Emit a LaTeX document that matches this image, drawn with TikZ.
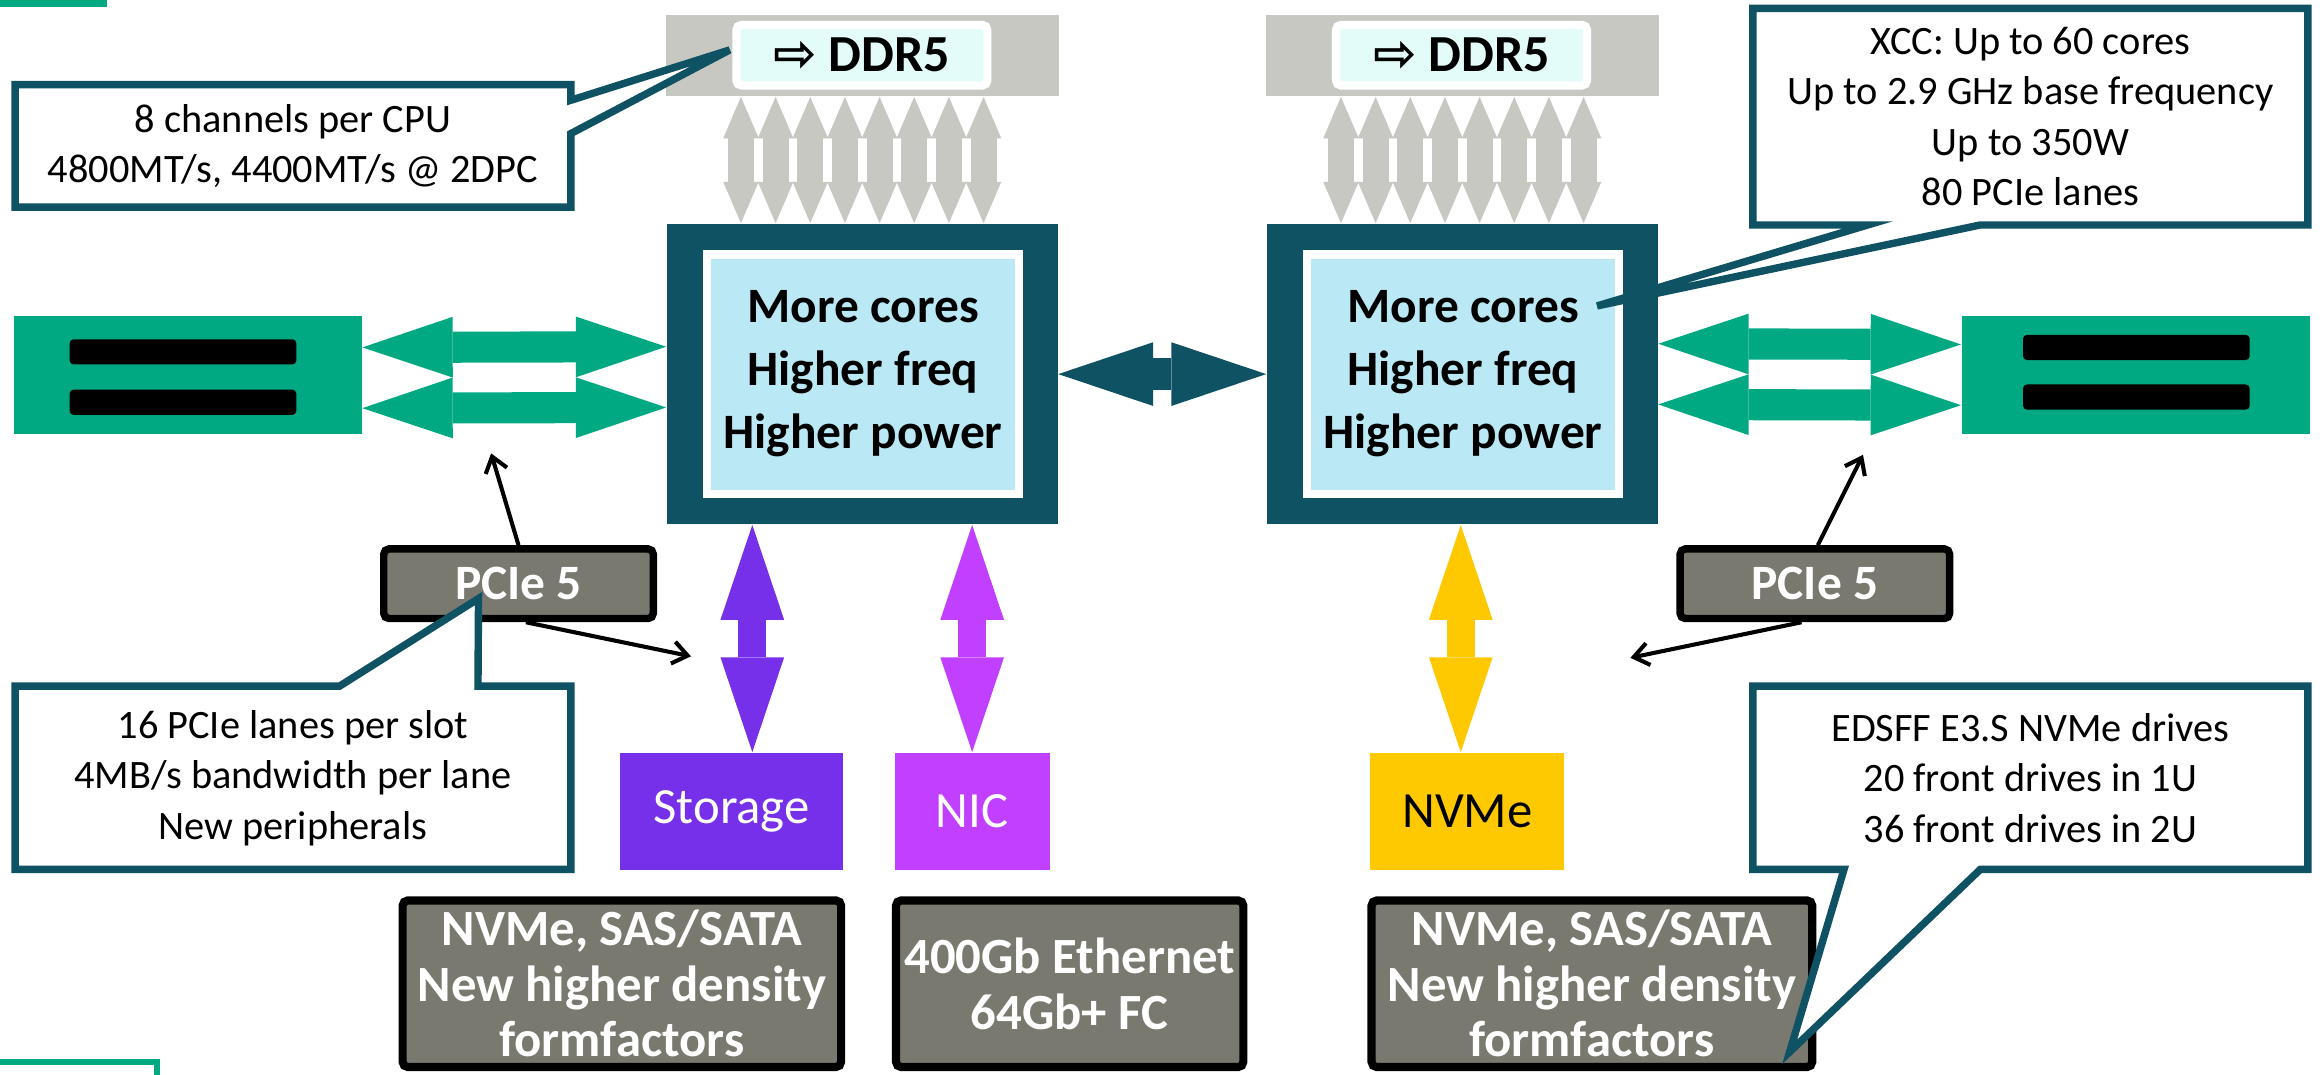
\documentclass[tikz,border=0pt]{standalone}
\usepackage{fontspec}
\setmainfont{Carlito}
\newfontfamily\arrowfont{DejaVu Sans}
\usetikzlibrary{arrows.meta}

\definecolor{hpeteal}{RGB}{14,82,99}
\definecolor{hpegreen}{RGB}{1,169,130}
\definecolor{corefill}{RGB}{186,232,245}
\definecolor{ddrgray}{RGB}{200,200,195}
\definecolor{ddrfill}{RGB}{228,252,249}
\definecolor{boxgray}{RGB}{122,121,112}
\definecolor{storpurple}{RGB}{118,48,234}
\definecolor{nicpurple}{RGB}{193,64,255}
\definecolor{nvmeyellow}{RGB}{254,201,1}

\begin{document}
\begin{tikzpicture}[x=0.02cm, y=-0.02cm,
  cpubox/.style={fill=hpeteal, inner sep=0, minimum width=5.28cm, minimum height=4.06cm},
  corebox/.style={fill=corefill, draw=white, line width=0.11cm, inner sep=0, minimum width=4.21cm, minimum height=3.23cm, align=center, font=\fontsize{19}{24.2}\selectfont\bfseries},
  ddrbox/.style={fill=ddrgray, inner sep=0, minimum width=5.3cm, minimum height=1.1cm},
  ddrlabel/.style={fill=ddrfill, draw=white, line width=0.11cm, rounded corners=2pt, inner sep=0, minimum width=3.39cm, minimum height=0.82cm, font=\fontsize{20}{22}\selectfont\bfseries},
  card/.style={fill=hpegreen, inner sep=0, minimum width=4.7cm, minimum height=1.6cm},
  slot/.style={fill=black, rounded corners=1.5pt, inner sep=0, minimum width=3.06cm, minimum height=0.34cm},
  pciebox/.style={fill=boxgray, draw=black, line width=0.1cm, rounded corners=2pt, inner sep=0, minimum width=3.64cm, minimum height=0.94cm, text=white, font=\fontsize{19}{21}\selectfont\bfseries},
  devbox/.style={inner sep=0, minimum height=1.58cm, font=\fontsize{19.5}{22}\selectfont},
  featbox/.style={fill=boxgray, draw=black, line width=0.11cm, rounded corners=2pt, inner sep=0, minimum height=2.25cm, text=white, align=center, font=\fontsize{19.5}{21.3}\selectfont\bfseries},
  notebox/.style={fill=white, inner sep=0, align=center, font=\fontsize{15.5}{19.4}\selectfont},
  noteline/.style={draw=hpeteal, line width=0.1cm},
  ddrarrow/.style={ddrgray, line width=0.35cm, >={Triangle[length=0.56cm, width=0.48cm, line width=0pt]}, <->},
  linkarrow/.style={hpegreen, line width=0.42cm, >={Triangle[length=1.22cm, width=0.82cm, line width=0pt]}, <->},
  cpulink/.style={hpeteal, line width=0.43cm, >={Triangle[length=1.28cm, width=0.86cm, line width=0pt]}, <->},
  devarrow/.style={#1, line width=0.38cm, >={Triangle[length=1.28cm, width=0.86cm, line width=0pt]}, <->},
  hintarrow/.style={black, line width=0.055cm, -{Straight Barb[length=0.2cm, width=0.3cm]}}
]
\useasboundingbox (0,0) rectangle (1568,725);
% Corner marks
\fill[hpegreen] (0,0) rectangle (72,5);
\draw[hpegreen, line width=0.08cm] (-10,717) rectangle (106,740);

% Define the nodes
\node[ddrbox] at (582,37.5) (ddrL) {};
\node[ddrlabel] at (581.75,37.25) (ddrLtxt) {{\arrowfont ⇨} DDR5};
\node[ddrbox] at (987,37.5) (ddrR) {};
\node[ddrlabel] at (986.5,37.25) (ddrRtxt) {{\arrowfont ⇨} DDR5};

\node[cpubox] at (582,252.5) (cpuL) {};
\node[corebox] at (582.5,252.5) (coresL) {More cores\\Higher freq\\Higher power};
\node[cpubox] at (987,252.5) (cpuR) {};
\node[corebox] at (987.5,252.5) (coresR) {More cores\\Higher freq\\Higher power};

\node[card] at (126.75,253) (cardL) {};
\node[slot] at (123.5,237.5) (slotL1) {};
\node[slot] at (123.5,271.5) (slotL2) {};
\node[card] at (1441.5,253) (cardR) {};
\node[slot] at (1442,234.5) (slotR1) {};
\node[slot] at (1442,268) (slotR2) {};

\node[pciebox] at (350,394) (pcieL) {PCIe 5};
\node[pciebox] at (1225,394) (pcieR) {PCIe 5};

\node[devbox, fill=storpurple, text=white, minimum width=3.01cm] at (493.8,547.5) (stor) {Storage};
\node[devbox, fill=nicpurple, text=white, minimum width=2.09cm] at (656.2,547.5) (nic) {NIC};
\node[devbox, fill=nvmeyellow, minimum width=2.62cm] at (990.5,547.5) (nvme) {NVMe};

\node[featbox, minimum width=5.92cm] at (419.75,664) (storFeat) {NVMe, SAS/SATA\\New higher density\\formfactors};
\node[featbox, minimum width=4.69cm] at (722,664) (nicFeat) {400Gb Ethernet\\64Gb+ FC};
\node[featbox, minimum width=5.95cm] at (1074.5,664) (nvmeFeat) {NVMe, SAS/SATA\\New higher density\\formfactors};

% Draw the paths
\foreach \c in {L,R}
  \foreach \k in {0,...,7}
    \draw[ddrarrow] ([xshift={(\k-3.5)*0.468cm}]ddr\c.south) -- ([xshift={(\k-3.5)*0.468cm}]cpu\c.north);

\draw[linkarrow] ([yshift=0.37cm]cardL.east) -- ([yshift=0.37cm]cpuL.west);
\draw[linkarrow] ([yshift=-0.45cm]cardL.east) -- ([yshift=-0.45cm]cpuL.west);
\draw[linkarrow] ([yshift=0.41cm]cpuR.east) -- ([yshift=0.41cm]cardR.west);
\draw[linkarrow] ([yshift=-0.41cm]cpuR.east) -- ([yshift=-0.41cm]cardR.west);
\draw[cpulink] (cpuL.east) -- (cpuR.west);

\coordinate (storTop) at ([xshift=0.28cm]stor.north);
\coordinate (nvmeTop) at ([xshift=-0.09cm]nvme.north);
\draw[devarrow=storpurple] (storTop |- cpuL.south) -- (storTop);
\draw[devarrow=nicpurple] (nic.north |- cpuL.south) -- (nic.north);
\draw[devarrow=nvmeyellow] (nvmeTop |- cpuR.south) -- (nvmeTop);

\coordinate (cardLhint) at (331.5,306);
\coordinate (storHint) at (466.4,443);
\coordinate (cardRhint) at (1257.5,307);
\coordinate (nvmeHint) at (1100.5,444);
\draw[hintarrow] (pcieL.north) -- (cardLhint);
\draw[hintarrow] ([xshift=0.1cm]pcieL.south) -- (storHint);
\draw[hintarrow] ([xshift=0.04cm]pcieR.north) -- (cardRhint);
\draw[hintarrow] ([xshift=-0.18cm]pcieR.south) -- (nvmeHint);

% Callouts
\node[notebox, minimum width=7.49cm, minimum height=1.64cm] at (197.75,98.5) (ddrNote) {8 channels per CPU\\4800MT/s, 4400MT/s @ 2DPC};
\coordinate (ddrTip) at (492.5,33.7);
\fill[white] ([yshift=-0.21cm]ddrNote.north east) -- (ddrTip) -- ([yshift=-0.66cm]ddrNote.north east) -- cycle;
\draw[noteline] (ddrNote.north west) -- (ddrNote.north east) -- ([yshift=-0.21cm]ddrNote.north east) -- (ddrTip) -- ([yshift=-0.66cm]ddrNote.north east) -- (ddrNote.south east) -- (ddrNote.south west) -- cycle;

\node[notebox, minimum width=7.48cm, minimum height=2.91cm] at (1370.5,78.75) (xccNote) {XCC: Up to 60 cores\\Up to 2.9 GHz base frequency\\Up to 350W\\80 PCIe lanes};
\coordinate (xccTip) at (1078,206.5);
\fill[white] ([xshift=3.07cm]xccNote.south west) -- (xccTip) -- ([xshift=1.55cm]xccNote.south west) -- cycle;
\draw[noteline] (xccNote.north west) -- (xccNote.north east) -- (xccNote.south east) -- ([xshift=3.07cm]xccNote.south west) -- (xccTip) -- ([xshift=1.55cm]xccNote.south west) -- (xccNote.south west) -- cycle;

\node[notebox, minimum width=7.49cm, minimum height=2.46cm] at (197.75,525) (pcieNote) {16 PCIe lanes per slot\\4MB/s bandwidth per lane\\New peripherals};
\coordinate (pcieTip) at (323,404);
\fill[white] ([xshift=4.38cm]pcieNote.north west) -- (pcieTip) -- ([xshift=6.25cm]pcieNote.north west) -- cycle;
\draw[noteline] (pcieNote.north west) -- ([xshift=4.38cm]pcieNote.north west) -- (pcieTip) -- ([xshift=6.25cm]pcieNote.north west) -- (pcieNote.north east) -- (pcieNote.south east) -- (pcieNote.south west) -- cycle;

\node[notebox, minimum width=7.48cm, minimum height=2.46cm] at (1370.5,525) (edsffNote) {EDSFF E3.S NVMe drives\\20 front drives in 1U\\36 front drives in 2U};
\coordinate (edsffTip) at (1208,710);
\fill[white] ([xshift=3.07cm]edsffNote.south west) -- (edsffTip) -- ([xshift=1.23cm]edsffNote.south west) -- cycle;
\draw[noteline] (edsffNote.north west) -- (edsffNote.north east) -- (edsffNote.south east) -- ([xshift=3.07cm]edsffNote.south west) -- (edsffTip) -- ([xshift=1.23cm]edsffNote.south west) -- (edsffNote.south west) -- cycle;
\end{tikzpicture}
\end{document}
